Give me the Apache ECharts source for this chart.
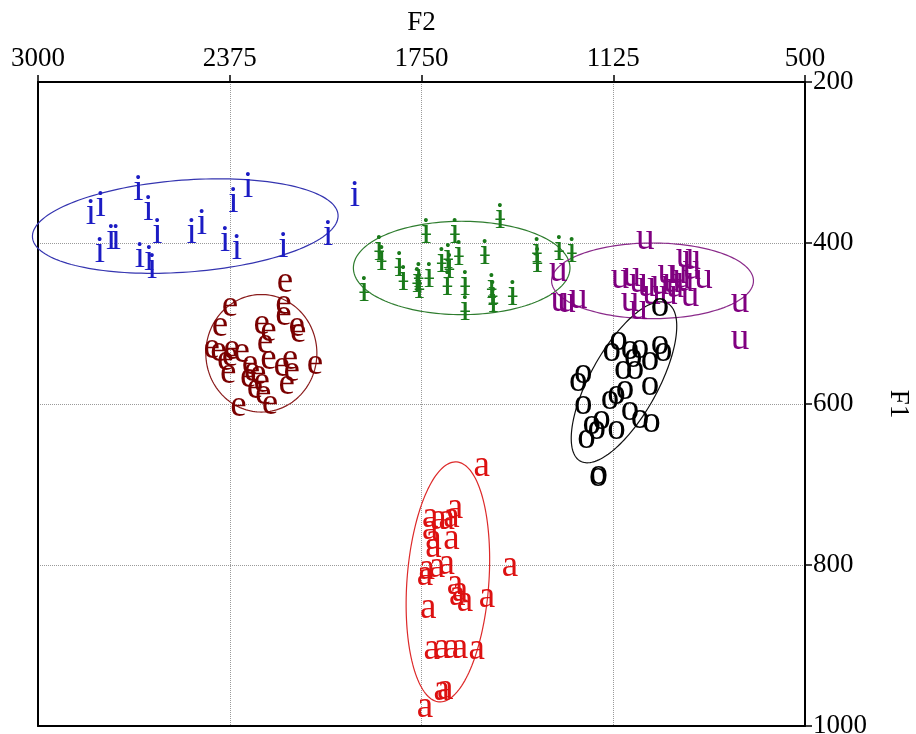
<!DOCTYPE html>
<html>
<head>
<meta charset="utf-8">
<script src="https://cdn.jsdelivr.net/npm/echarts@6/dist/echarts.min.js"></script>
<style>html,body{margin:0;padding:0;background:#fff;}#c{width:916px;height:734px;}</style>
</head>
<body>
<div id="c"></div>
<script>
// Axis ranges (Hz)
const f2Range = [500, 3000];
const f2Step = 625;
const f1Range = [200, 1000];
const f1Step = 200;

// Vowel tokens: [F2, F1]
const vowelI = [[2828,362],[2796,352],[2673,332],[2640,357],[2798,409],[2762,393],[2746,393],[2611,386],
  [2668,415],[2638,419],[2628,429],[2499,386],[2466,374],[2363,347],[2315,328],[2390,396],[2352,405],
  [2200,403],[2054,388],[1967,340]];
const vowelE = [[2195,448],[2374,477],[2407,502],[2200,475],[2200,489],[2271,500],[2249,508],[2157,502],
  [2152,510],[2260,523],[2434,529],[2412,533],[2369,531],[2336,535],[2390,545],[2374,539],[2249,543],
  [2206,552],[2179,543],[2097,549],[2173,558],[2380,560],[2309,549],[2303,558],[2315,566],[2282,562],
  [2271,572],[2293,579],[2189,574],[2266,587],[2244,599],[2347,601]];
const vowelBarI = [[1888,407],[1880,419],[1822,426],[1809,444],[1937,458],[1764,446],[1757,454],[1759,440],
  [1735,386],[1725,440],[1684,421],[1663,417],[1659,429],[1666,450],[1641,386],[1628,413],[1608,450],
  [1608,481],[1543,411],[1521,454],[1518,463],[1516,471],[1494,367],[1453,463],[1374,409],[1372,421],
  [1301,407],[1260,409]];
const vowelU = [[1304,434],[1299,471],[1277,473],[1239,467],[1021,394],[1103,442],[1065,440],[1043,448],
  [1016,452],[1070,471],[1043,481],[1000,463],[951,436],[934,448],[924,454],[945,463],[891,417],[869,419],
  [913,436],[902,442],[875,465],[831,442],[712,473],[712,518],[973,450],[891,446],[869,431]];
const vowelO = [[973,477],[1108,520],[1130,533],[1070,531],[1038,529],[973,525],[962,533],[1060,541],
  [1005,545],[1092,556],[1054,556],[1223,560],[1239,570],[1005,576],[1087,581],[1114,587],[1136,593],
  [1223,599],[1070,607],[1038,616],[1000,622],[1163,618],[1195,624],[1179,630],[1212,641],[1114,630],
  [1174,688],[1172,686]];
const vowelA = [[1554,676],[1641,728],[1722,740],[1695,742],[1668,742],[1652,740],[1722,754],[1711,767],
  [1652,767],[1711,777],[1733,804],[1700,802],[1668,798],[1739,812],[1462,800],[1641,823],[1625,831],
  [1608,844],[1634,836],[1537,839],[1728,852],[1717,904],[1684,902],[1652,902],[1625,902],[1570,904],
  [1684,955],[1673,953],[1739,976]];

// Ellipses: centre [F2, F1], semi-axis vectors A and B [dF2, dF1]
const ellipseI    = {c:[2520,379], a:[-498,-14], b:[-11,57]};
const ellipseE    = {c:[2272,537], a:[181,0],    b:[0,73]};
const ellipseBarI = {c:[1619,431], a:[353,0],    b:[0,58]};
const ellipseU    = {c:[997,447],  a:[329,0],    b:[0,47]};
const ellipseO    = {c:[1090,573], a:[-142,-98], b:[-97,20]};
const ellipseA    = {c:[1664,821], a:[-29,-149], b:[-133,4]};

const SERIF = '"Liberation Serif", "DejaVu Serif", serif';

function letterSeries(letter, pts, color, dy) {
  return {
    type: 'custom', name: letter, data: pts, z: 5, silent: true, clip: false,
    renderItem: function (params, api) {
      const p = api.coord([api.value(0), api.value(1)]);
      return {
        type: 'text', x: p[0], y: p[1] + dy,
        style: {text: letter, fill: color, fontSize: 37, fontFamily: SERIF, align: 'center', verticalAlign: 'middle'}
      };
    }
  };
}

function ellipseSeries(e, color) {
  return {
    type: 'custom', data: [[e.c[0], e.c[1], e.a[0], e.a[1], e.b[0], e.b[1]]], z: 3, silent: true, clip: false,
    renderItem: function (params, api) {
      const cx = api.value(0), cy = api.value(1), ax = api.value(2), ay = api.value(3), bx = api.value(4), by = api.value(5);
      const pts = [];
      const n = 160;
      for (let k = 0; k <= n; k++) {
        const t = k / n * 2 * Math.PI;
        const c = Math.cos(t), s = Math.sin(t);
        pts.push(api.coord([cx + ax * c + bx * s, cy + ay * c + by * s]));
      }
      return {type: 'polyline', shape: {points: pts}, style: {stroke: color, fill: null, lineWidth: 1.2}};
    }
  };
}

const plainNum = function (v) { return String(v); };
const frameAxis = {
  axisLine: {show: true, lineStyle: {color: '#000', width: 2}},
  axisTick: {show: false}, axisLabel: {show: false}, splitLine: {show: false}
};

const chart = echarts.init(document.getElementById('c'), null, {renderer: 'canvas'});
chart.setOption({
  animation: false,
  backgroundColor: '#fff',
  grid: {left: 38, right: 111, top: 82, bottom: 8, containLabel: false, outerBoundsMode: 'none'},
  xAxis: [{
    type: 'value', position: 'top', inverse: true,
    min: f2Range[0], max: f2Range[1], interval: f2Step,
    name: 'F2', nameLocation: 'middle', nameGap: 46,
    nameTextStyle: {fontFamily: SERIF, fontSize: 27, color: '#000'},
    axisLine: {show: true, lineStyle: {color: '#000', width: 2}},
    axisTick: {show: true, inside: false, length: 7, lineStyle: {color: '#000', width: 1.5}},
    axisLabel: {fontFamily: SERIF, fontSize: 27, color: '#000', margin: 10, formatter: plainNum},
    splitLine: {show: true, lineStyle: {color: '#9a9a9a', type: 'dotted', width: 1}}
  }, Object.assign({
    type: 'value', position: 'bottom', inverse: true,
    min: f2Range[0], max: f2Range[1]
  }, frameAxis)],
  yAxis: [{
    type: 'value', position: 'right', inverse: true,
    min: f1Range[0], max: f1Range[1], interval: f1Step,
    name: 'F1', nameLocation: 'middle', nameGap: 80, nameRotate: -90,
    nameTextStyle: {fontFamily: SERIF, fontSize: 27, color: '#000'},
    axisLine: {show: true, lineStyle: {color: '#000', width: 2}},
    axisTick: {show: true, inside: false, length: 7, lineStyle: {color: '#000', width: 1.5}},
    axisLabel: {fontFamily: SERIF, fontSize: 27, color: '#000', margin: 8, formatter: plainNum},
    splitLine: {show: true, lineStyle: {color: '#9a9a9a', type: 'dotted', width: 1}}
  }, Object.assign({
    type: 'value', position: 'left', inverse: true,
    min: f1Range[0], max: f1Range[1]
  }, frameAxis)],
  series: [
    ellipseSeries(ellipseI, '#3535b0'),
    ellipseSeries(ellipseE, '#8a1c1c'),
    ellipseSeries(ellipseBarI, '#2f7d2f'),
    ellipseSeries(ellipseU, '#8a2a8a'),
    ellipseSeries(ellipseO, '#111111'),
    ellipseSeries(ellipseA, '#dd2a2a'),
    letterSeries('i', vowelI, '#1c1cc4', 2),
    letterSeries('e', vowelE, '#7a0000', 1),
    letterSeries('\u0268', vowelBarI, '#1a7a1a', 2),
    letterSeries('u', vowelU, '#800080', 1),
    letterSeries('o', vowelO, '#000000', 1),
    letterSeries('a', vowelA, '#dd1111', 1)
  ]
});
</script>
</body>
</html>
